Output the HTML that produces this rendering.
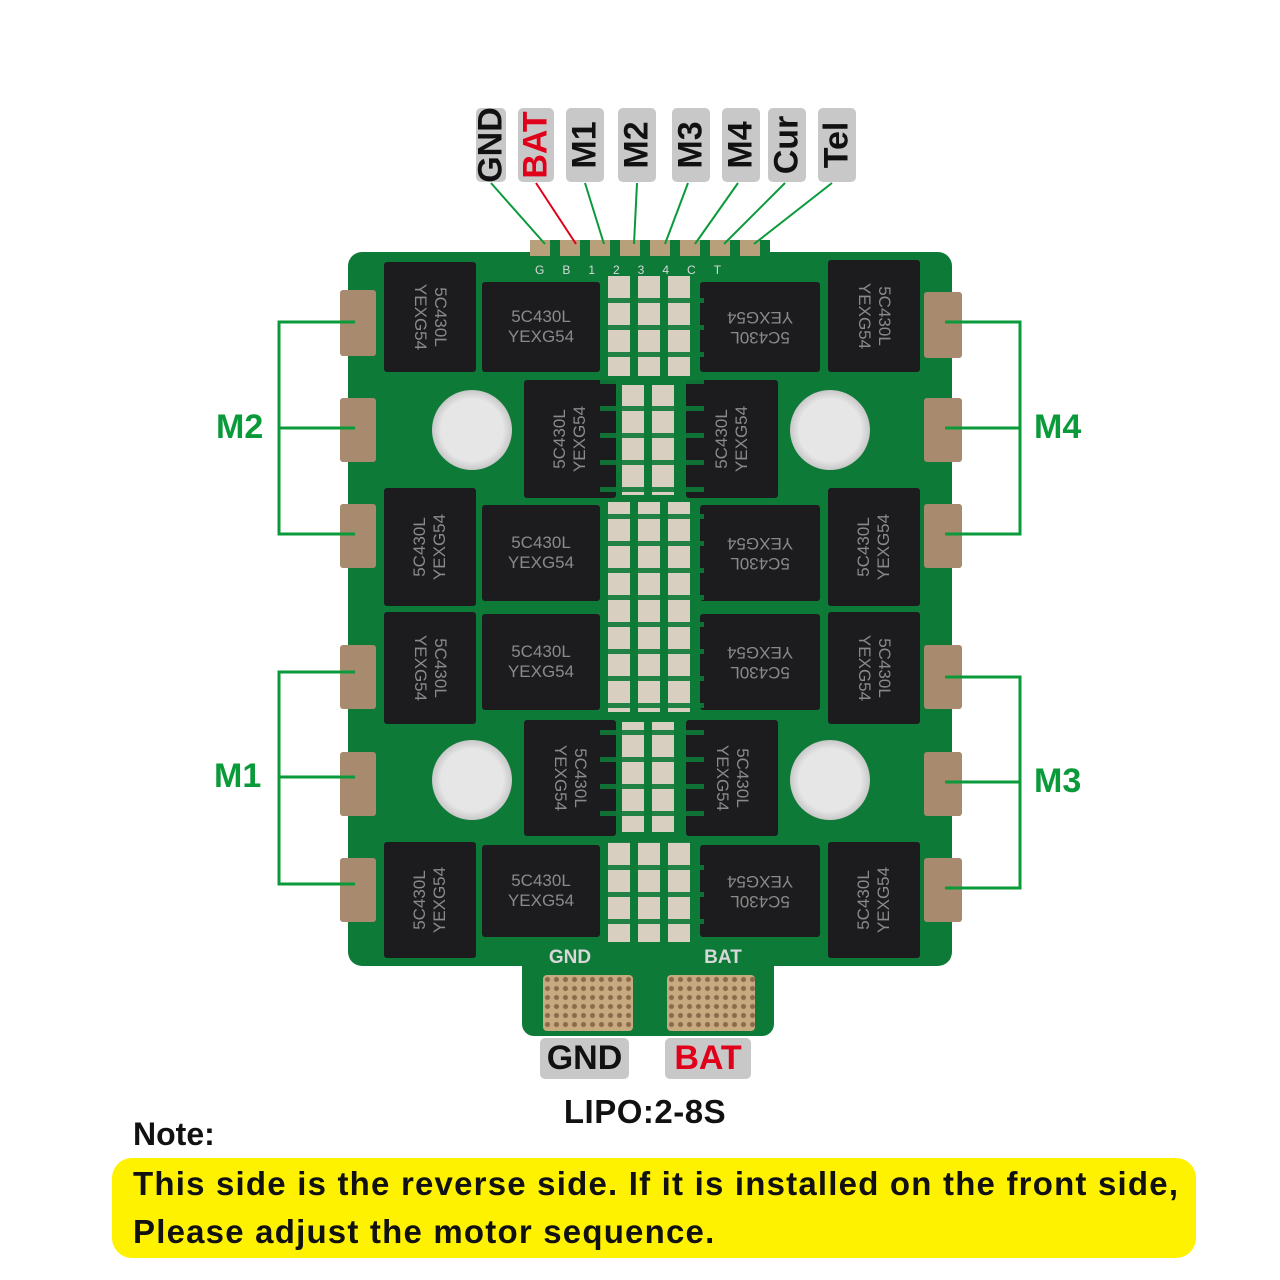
<!DOCTYPE html>
<html><head><meta charset="utf-8"><style>
body{margin:0;width:1280px;height:1280px;background:#fff;position:relative;overflow:hidden;font-family:"Liberation Sans",sans-serif}
div{position:absolute;box-sizing:border-box}
.lab{background:#c8c8c8;border-radius:5px;width:38px;top:108px;height:74px}
.lab span{position:absolute;left:50%;top:50%;transform:translate(-50%,-50%) rotate(-90deg);font-weight:bold;font-size:34px;color:#111;white-space:nowrap}
.chip{background:#1c1c1e;border-radius:3px;color:#8a8a8a;font-size:17px;line-height:20px;display:flex;align-items:center;justify-content:center;text-align:center}
.chip span{display:block;white-space:nowrap}
.r span{transform:rotate(90deg)}
.l span{transform:rotate(-90deg)}
.pad{background:#a88a6e;border-radius:3px}
.hole{border-radius:50%;background:radial-gradient(circle,#e6e6e6 55%,#c9c9c9 70%,#d9c8a8 100%)}
.side{color:#0a9a3a;font-weight:bold;font-size:34px}
.txt{color:#d8d8d8;font-size:17px;line-height:20px;text-align:center}
</style></head><body>
<div style="left:348px;top:252px;width:604px;height:714px;background:#0e7a38;border-radius:14px"></div>
<div style="left:522px;top:940px;width:252px;height:96px;background:#0e7a38;border-radius:0 0 12px 12px"></div>
<div class="pad" style="left:340px;top:290px;width:36px;height:66px"></div>
<div class="pad" style="left:340px;top:398px;width:36px;height:64px"></div>
<div class="pad" style="left:340px;top:504px;width:36px;height:64px"></div>
<div class="pad" style="left:340px;top:645px;width:36px;height:64px"></div>
<div class="pad" style="left:340px;top:752px;width:36px;height:64px"></div>
<div class="pad" style="left:340px;top:858px;width:36px;height:64px"></div>
<div class="pad" style="left:924px;top:292px;width:38px;height:66px"></div>
<div class="pad" style="left:924px;top:398px;width:38px;height:64px"></div>
<div class="pad" style="left:924px;top:504px;width:38px;height:64px"></div>
<div class="pad" style="left:924px;top:645px;width:38px;height:64px"></div>
<div class="pad" style="left:924px;top:752px;width:38px;height:64px"></div>
<div class="pad" style="left:924px;top:858px;width:38px;height:64px"></div>
<div class="hole" style="left:432px;top:390px;width:80px;height:80px"></div>
<div class="hole" style="left:790px;top:390px;width:80px;height:80px"></div>
<div class="hole" style="left:432px;top:740px;width:80px;height:80px"></div>
<div class="hole" style="left:790px;top:740px;width:80px;height:80px"></div>
<div class="chip r" style="left:384px;top:262px;width:92px;height:110px"><span>5C430L<br>YEXG54</span></div>
<div class="chip l" style="left:384px;top:488px;width:92px;height:118px"><span>5C430L<br>YEXG54</span></div>
<div class="chip r" style="left:384px;top:612px;width:92px;height:112px"><span>5C430L<br>YEXG54</span></div>
<div class="chip l" style="left:384px;top:842px;width:92px;height:116px"><span>5C430L<br>YEXG54</span></div>
<div class="chip r" style="left:828px;top:260px;width:92px;height:112px"><span>5C430L<br>YEXG54</span></div>
<div class="chip l" style="left:828px;top:488px;width:92px;height:118px"><span>5C430L<br>YEXG54</span></div>
<div class="chip r" style="left:828px;top:612px;width:92px;height:112px"><span>5C430L<br>YEXG54</span></div>
<div class="chip l" style="left:828px;top:842px;width:92px;height:116px"><span>5C430L<br>YEXG54</span></div>
<div class="chip" style="left:482px;top:282px;width:118px;height:90px"><span>5C430L<br>YEXG54</span></div>
<div class="chip l" style="left:524px;top:380px;width:92px;height:118px"><span>5C430L<br>YEXG54</span></div>
<div class="chip" style="left:482px;top:505px;width:118px;height:96px"><span>5C430L<br>YEXG54</span></div>
<div class="chip" style="left:482px;top:614px;width:118px;height:96px"><span>5C430L<br>YEXG54</span></div>
<div class="chip r" style="left:524px;top:720px;width:92px;height:116px"><span>5C430L<br>YEXG54</span></div>
<div class="chip" style="left:482px;top:845px;width:118px;height:92px"><span>5C430L<br>YEXG54</span></div>
<div class="chip" style="left:700px;top:282px;width:120px;height:90px"><span style="transform:rotate(180deg)">5C430L<br>YEXG54</span></div>
<div class="chip l" style="left:686px;top:380px;width:92px;height:118px"><span>5C430L<br>YEXG54</span></div>
<div class="chip" style="left:700px;top:505px;width:120px;height:96px"><span style="transform:rotate(180deg)">5C430L<br>YEXG54</span></div>
<div class="chip" style="left:700px;top:614px;width:120px;height:96px"><span style="transform:rotate(180deg)">5C430L<br>YEXG54</span></div>
<div class="chip r" style="left:686px;top:720px;width:92px;height:116px"><span>5C430L<br>YEXG54</span></div>
<div class="chip" style="left:700px;top:845px;width:120px;height:92px"><span style="transform:rotate(180deg)">5C430L<br>YEXG54</span></div>
<div style="left:608px;top:276px;width:88px;height:100px;background:repeating-linear-gradient(90deg,#d8cfc0 0 22px,#0e7a38 22px 30px)"></div>
<div style="left:622px;top:385px;width:60px;height:110px;background:repeating-linear-gradient(90deg,#d8cfc0 0 22px,#0e7a38 22px 30px)"></div>
<div style="left:608px;top:502px;width:88px;height:210px;background:repeating-linear-gradient(90deg,#d8cfc0 0 22px,#0e7a38 22px 30px)"></div>
<div style="left:622px;top:722px;width:60px;height:110px;background:repeating-linear-gradient(90deg,#d8cfc0 0 22px,#0e7a38 22px 30px)"></div>
<div style="left:608px;top:842px;width:88px;height:100px;background:repeating-linear-gradient(90deg,#d8cfc0 0 22px,#0e7a38 22px 30px)"></div>
<div style="left:600px;top:276px;width:104px;height:666px;background:repeating-linear-gradient(180deg,transparent 0 22px,rgba(14,122,56,.9) 22px 27px)"></div>
<div style="left:530px;top:240px;width:240px;height:16px;background:repeating-linear-gradient(90deg,#b8a07a 0 20px,#0e7a38 20px 30px)"></div>
<div class="txt" style="left:535px;top:260px;width:235px;font-size:12px;text-align:left;letter-spacing:18px">GB1234CT</div>
<div style="left:543px;top:975px;width:90px;height:56px;background:#c8aa80;border-radius:4px;background-image:radial-gradient(circle,#8a6a4a 2px,transparent 3px);background-size:9px 9px"></div>
<div style="left:667px;top:975px;width:88px;height:56px;background:#c8aa80;border-radius:4px;background-image:radial-gradient(circle,#8a6a4a 2px,transparent 3px);background-size:9px 9px"></div>
<div class="txt" style="left:545px;top:948px;width:50px;font-weight:bold;font-size:19px">GND</div>
<div class="txt" style="left:698px;top:948px;width:50px;font-weight:bold;font-size:19px">BAT</div>
<div class="lab" style="left:476px;width:30px"><span>GND</span></div>
<div class="lab" style="left:518px;width:36px"><span style="color:#e0001a">BAT</span></div>
<div class="lab" style="left:566px"><span>M1</span></div>
<div class="lab" style="left:618px"><span>M2</span></div>
<div class="lab" style="left:672px"><span>M3</span></div>
<div class="lab" style="left:722px"><span>M4</span></div>
<div class="lab" style="left:768px"><span>Cur</span></div>
<div class="lab" style="left:818px"><span>Tel</span></div>
<svg style="position:absolute;left:0;top:0" width="1280" height="1280">
<g stroke="#0a9a3a" stroke-width="2" fill="none">
<line x1="491" y1="183" x2="545" y2="244"/>
<line x1="585" y1="183" x2="604" y2="244"/>
<line x1="637" y1="183" x2="634" y2="244"/>
<line x1="688" y1="183" x2="665" y2="244"/>
<line x1="738" y1="183" x2="695" y2="244"/>
<line x1="785" y1="183" x2="724" y2="244"/>
<line x1="832" y1="183" x2="754" y2="244"/>
</g>
<line x1="536" y1="183" x2="576" y2="244" stroke="#e0001a" stroke-width="2"/>
<g stroke="#0a9a3a" stroke-width="3" fill="none">
<polyline points="355,322 279,322 279,534 355,534"/><line x1="279" y1="428" x2="355" y2="428"/>
<polyline points="945,322 1020,322 1020,534 945,534"/><line x1="945" y1="428" x2="1020" y2="428"/>
<polyline points="355,672 279,672 279,884 355,884"/><line x1="279" y1="777" x2="355" y2="777"/>
<polyline points="945,677 1020,677 1020,888 945,888"/><line x1="945" y1="782" x2="1020" y2="782"/>
</g>
</svg>
<div class="side" style="left:216px;top:408px">M2</div>
<div class="side" style="left:1034px;top:408px">M4</div>
<div class="side" style="left:214px;top:757px">M1</div>
<div class="side" style="left:1034px;top:762px">M3</div>
<div style="left:540px;top:1038px;width:89px;height:41px;background:#c8c8c8;border-radius:5px;font-weight:bold;font-size:34px;text-align:center;line-height:41px;color:#111">GND</div>
<div style="left:665px;top:1038px;width:86px;height:41px;background:#c8c8c8;border-radius:5px;font-weight:bold;font-size:34px;text-align:center;line-height:41px;color:#e0001a">BAT</div>
<div style="left:535px;top:1093px;width:220px;text-align:center;font-weight:bold;font-size:33px;color:#111;letter-spacing:0.5px">LIPO:2-8S</div>
<div style="left:133px;top:1116px;font-weight:bold;font-size:32px;color:#111">Note:</div>
<div style="left:112px;top:1158px;width:1084px;height:100px;background:#fff200;border-radius:20px"></div>
<div style="left:133px;top:1160px;font-weight:bold;font-size:33px;color:#111;line-height:48px;white-space:nowrap;letter-spacing:1.2px">This side is the reverse side. If it is installed on the front side,<br>Please adjust the motor sequence.</div>
</body></html>
